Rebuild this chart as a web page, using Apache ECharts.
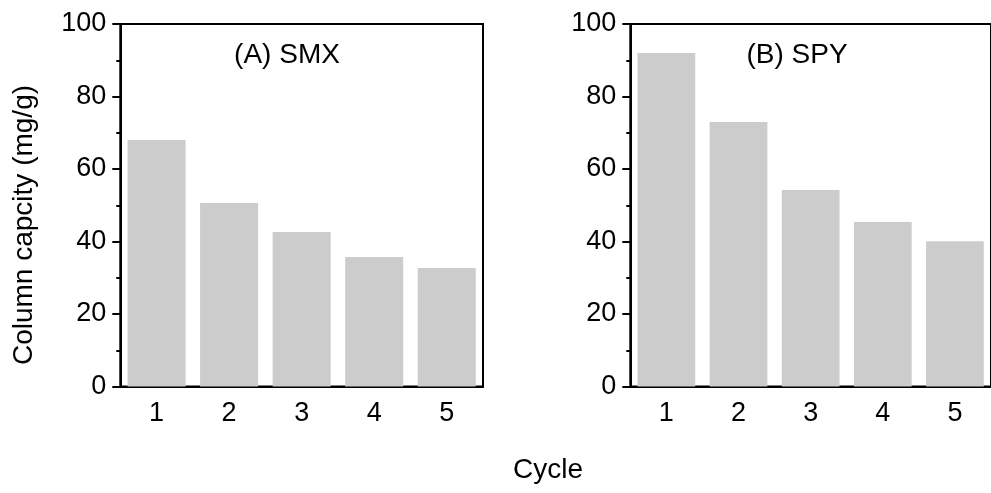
<!DOCTYPE html>
<html>
<head>
<meta charset="utf-8">
<script src="https://cdn.jsdelivr.net/npm/echarts@6/dist/echarts.min.js"></script>
<style>
  html, body { margin: 0; padding: 0; background: #fff; }
  #chart { width: 991px; height: 493px; }
</style>
</head>
<body>
<div id="chart"></div>
<script>
const cycles = ['1', '2', '3', '4', '5']
const smxCapacity = [68.0, 50.6, 42.6, 35.7, 32.7]
const spyCapacity = [92.0, 73.0, 54.2, 45.4, 40.1]
const panelLabels = ['(A) SMX', '(B) SPY']

const font = 'Liberation Sans, Arial, sans-serif'
const ink = '#000'
const barColor = '#cccccc'

const gridTop = 24
const gridH = 362.5
const gridW = 362.7
const gridLefts = [120.3, 630.3]

const grids = gridLefts.map(left => ({
  left, top: gridTop, width: gridW, height: gridH,
  show: true, borderColor: ink, borderWidth: 2, backgroundColor: 'transparent'
}))

const xAxes = []
const yAxes = []
gridLefts.forEach((_, i) => {
  // major ticks + labels at category centres
  xAxes.push({
    type: 'category', gridIndex: i, data: cycles, position: 'bottom',
    axisLine: { lineStyle: { color: ink, width: 2 } },
    axisTick: { alignWithLabel: true, length: 8, lineStyle: { color: ink, width: 2 } },
    axisLabel: { color: ink, fontSize: 27, fontFamily: font, margin: 14 },
    splitLine: { show: false }
  })
  // short ticks at category boundaries
  xAxes.push({
    type: 'category', gridIndex: i, data: cycles, position: 'bottom',
    axisLine: { show: false },
    axisTick: { length: 4, lineStyle: { color: ink, width: 2 } },
    axisLabel: { show: false },
    splitLine: { show: false }
  })
  yAxes.push({
    type: 'value', gridIndex: i, min: 0, max: 100, interval: 20,
    axisLine: { show: true, lineStyle: { color: ink, width: 2 } },
    axisTick: { show: true, length: 8, lineStyle: { color: ink, width: 2 } },
    minorTick: { show: true, splitNumber: 2, length: 4, lineStyle: { color: ink, width: 2 } },
    axisLabel: { color: ink, fontSize: 27, fontFamily: font, margin: 14 },
    splitLine: { show: false }
  })
})

const option = {
  animation: false,
  grid: grids,
  xAxis: xAxes,
  yAxis: yAxes,
  series: [smxCapacity, spyCapacity].map((vals, i) => ({
    type: 'bar', data: vals, xAxisIndex: i * 2, yAxisIndex: i,
    barCategoryGap: '20%', itemStyle: { color: barColor }
  })),
  graphic: [
    ...panelLabels.map((t, i) => ({
      type: 'text', x: [287, 797][i], y: 55,
      style: { text: t, fill: ink, font: '28px ' + font, textAlign: 'center', textVerticalAlign: 'middle' }
    })),
    {
      type: 'text', x: 548, y: 470,
      style: { text: 'Cycle', fill: ink, font: '28px ' + font, textAlign: 'center', textVerticalAlign: 'middle' }
    },
    {
      type: 'text', x: 24, y: 225, rotation: Math.PI / 2,
      style: { text: 'Column capcity (mg/g)', fill: ink, font: '28px ' + font, textAlign: 'center', textVerticalAlign: 'middle' }
    }
  ]
}

const chart = echarts.init(document.getElementById('chart'))
chart.setOption(option)
</script>
</body>
</html>
